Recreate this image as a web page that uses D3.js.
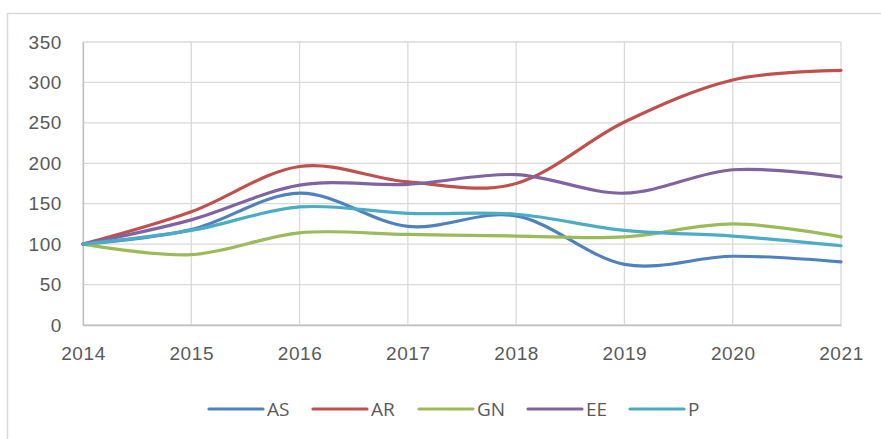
<!DOCTYPE html>
<html>
<head>
<meta charset="utf-8">
<script src="https://cdn.jsdelivr.net/npm/d3@7"></script>
<style>
  body { margin: 0; background: #fff; }
  svg { display: block; font-family: "Open Sans", "Liberation Sans", sans-serif; }
  .tick text { fill: #595959; font-size: 19px; letter-spacing: 0.6px; }
  .legend text { fill: #595959; font-size: 19px; }
</style>
</head>
<body>
<svg id="chart" width="881" height="439"></svg>
<script>
const years = [2014, 2015, 2016, 2017, 2018, 2019, 2020, 2021];
const yTicks = [0, 50, 100, 150, 200, 250, 300, 350];
const seriesNames = ['AS', 'AR', 'GN', 'EE', 'P'];
const seriesColors = ['#4f81bd', '#c0504d', '#9bbb59', '#8064a2', '#4bacc6'];

const AS = [100, 118, 163, 122, 135, 75, 85, 78];
const AR = [100, 140, 196, 177, 175, 251, 303, 315];
const GN = [100, 87, 114, 112, 110, 109, 125, 109];
const EE = [100, 130, 173, 174, 186, 163, 192, 183];
const P = [100, 117, 146, 138, 137, 117, 110, 98];

const seriesValues = [AS, AR, GN, EE, P];

const svg = d3.select('#chart');

// outer chart frame
svg.append('rect')
  .attr('x', 7.5).attr('y', 13.5)
  .attr('width', 900).attr('height', 460)
  .attr('fill', 'none')
  .attr('stroke', '#d9d9d9')
  .attr('stroke-width', 1.5);

const plot = { left: 83, right: 841, top: 42, bottom: 325 };

const x = d3.scaleLinear()
  .domain(d3.extent(years))
  .range([plot.left, plot.right]);

const y = d3.scaleLinear()
  .domain([0, 350])
  .range([plot.bottom, plot.top]);

// gridlines
svg.append('g')
  .selectAll('line')
  .data(yTicks)
  .join('line')
  .attr('x1', plot.left).attr('x2', plot.right)
  .attr('y1', d => y(d)).attr('y2', d => y(d))
  .attr('stroke', '#d9d9d9')
  .attr('stroke-width', 1.3);

svg.append('g')
  .selectAll('line')
  .data(years)
  .join('line')
  .attr('x1', d => x(d)).attr('x2', d => x(d))
  .attr('y1', plot.top).attr('y2', plot.bottom)
  .attr('stroke', '#d9d9d9')
  .attr('stroke-width', 1.3);

// axes
const yAxis = svg.append('g')
  .attr('transform', `translate(${plot.left},0)`)
  .call(d3.axisLeft(y).tickValues(yTicks).tickSize(0).tickPadding(21));
yAxis.select('.domain').attr('stroke', '#bfbfbf').attr('stroke-width', 1.3);

const xAxis = svg.append('g')
  .attr('transform', `translate(0,${plot.bottom})`)
  .call(d3.axisBottom(x).tickValues(years).tickFormat(d3.format('d')).tickSize(0).tickPadding(22));
xAxis.select('.domain').attr('stroke', '#bfbfbf').attr('stroke-width', 1.3);

// series lines
const line = d3.line()
  .x((d, i) => x(years[i]))
  .y(d => y(d))
  .curve(d3.curveCardinal.tension(0));

svg.append('g')
  .selectAll('path')
  .data(seriesValues)
  .join('path')
  .attr('d', line)
  .attr('fill', 'none')
  .attr('stroke', (d, i) => seriesColors[i])
  .attr('stroke-width', 3.2)
  .attr('stroke-linecap', 'round');

// legend
const legendX = [209, 313, 419, 528, 630];
const legend = svg.append('g').attr('class', 'legend');
const item = legend.selectAll('g')
  .data(seriesNames)
  .join('g')
  .attr('transform', (d, i) => `translate(${legendX[i]},409)`);
item.append('line')
  .attr('x1', 0).attr('x2', 54)
  .attr('stroke', (d, i) => seriesColors[i])
  .attr('stroke-width', 3.2)
  .attr('stroke-linecap', 'round');
item.append('text')
  .attr('x', 58)
  .attr('dy', '0.35em')
  .text(d => d);
</script>
</body>
</html>
